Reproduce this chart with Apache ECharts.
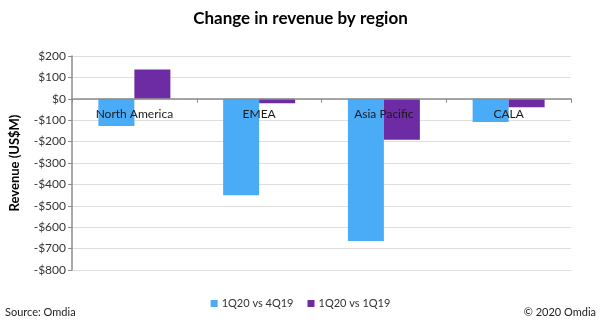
<!DOCTYPE html>
<html>
<head>
<meta charset="utf-8">
<script src="https://cdn.jsdelivr.net/npm/echarts@6/dist/echarts.min.js"></script>
<style>
  html, body { margin: 0; padding: 0; background: #fff; }
  #chart { width: 601px; height: 323px; }
</style>
</head>
<body>
<div id="chart"></div>
<script>
// Revenue change by region (US$M)
const regions = ['North America', 'EMEA', 'Asia Pacific', 'CALA'];
const qoq = [-127, -451, -665, -108];   // 1Q20 vs 4Q19
const yoy = [137, -21, -191, -39];      // 1Q20 vs 1Q19
const seriesNames = ['1Q20 vs 4Q19', '1Q20 vs 1Q19'];
const colors = ['#4aabf7', '#6d2ca3'];

const yMin = -800, yMax = 200;
const gridTop = 56, gridBottom = 53, chartH = 323;
// place the category axis on the zero line, labels just beneath it
const plotH = chartH - gridTop - gridBottom;
const zeroOffset = plotH * (0 - yMin) / (yMax - yMin);

const font = 'Lato, "Open Sans", sans-serif';
const chart = echarts.init(document.getElementById('chart'), null, { renderer: 'canvas' });

chart.setOption({
  animation: false,
  textStyle: { fontFamily: font },
  title: {
    text: 'Change in revenue by region',
    left: 'center',
    top: 5,
    textStyle: { fontFamily: font, fontSize: 17, fontWeight: 'bold', color: '#000' }
  },
  legend: {
    data: seriesNames,
    top: 293,
    left: 'center',
    itemWidth: 7,
    itemHeight: 7,
    itemGap: 14,
    icon: 'rect',
    textStyle: { fontFamily: font, fontSize: 11, color: '#333', padding: [0, 0, 0, -1] }
  },
  grid: { left: 67, right: 30, top: gridTop, bottom: gridBottom, containLabel: false },
  xAxis: {
    type: 'category',
    data: regions,
    offset: -zeroOffset,
    axisLine: { onZero: false, lineStyle: { color: '#8c8c8c', width: 1.5 } },
    axisTick: { show: true, length: 4, lineStyle: { color: '#8c8c8c' } },
    axisLabel: { color: '#1a1a1a', fontSize: 12, fontFamily: font, margin: 9 },
    z: 10
  },
  yAxis: {
    type: 'value',
    min: yMin,
    max: yMax,
    interval: 100,
    name: 'Revenue (US$M)',
    nameLocation: 'middle',
    nameGap: 51,
    nameTextStyle: { fontFamily: font, fontSize: 13, fontWeight: 'bold', color: '#000' },
    axisLine: { show: true, lineStyle: { color: '#8c8c8c', width: 1.5 } },
    axisTick: { show: true, length: 4, lineStyle: { color: '#8c8c8c' } },
    splitLine: { lineStyle: { color: '#dedede', width: 1 } },
    axisLabel: {
      color: '#333',
      fontSize: 12,
      fontFamily: font,
      margin: 6,
      formatter: v => (v < 0 ? '-$' + Math.abs(v) : '$' + v)
    }
  },
  series: [
    {
      name: seriesNames[0], type: 'bar', data: qoq,
      barWidth: 36, barGap: '0%',
      itemStyle: { color: colors[0] }, z: 2
    },
    {
      name: seriesNames[1], type: 'bar', data: yoy,
      barWidth: 36, barGap: '0%',
      itemStyle: { color: colors[1] }, z: 2
    }
  ],
  graphic: [
    {
      type: 'text', left: 5, top: 307,
      style: { text: 'Source: Omdia', fontFamily: font, fontSize: 11, fill: '#222' }
    },
    {
      type: 'text', right: 5, top: 307,
      style: { text: '© 2020 Omdia', fontFamily: font, fontSize: 11, fill: '#222' }
    }
  ]
});
</script>
</body>
</html>
